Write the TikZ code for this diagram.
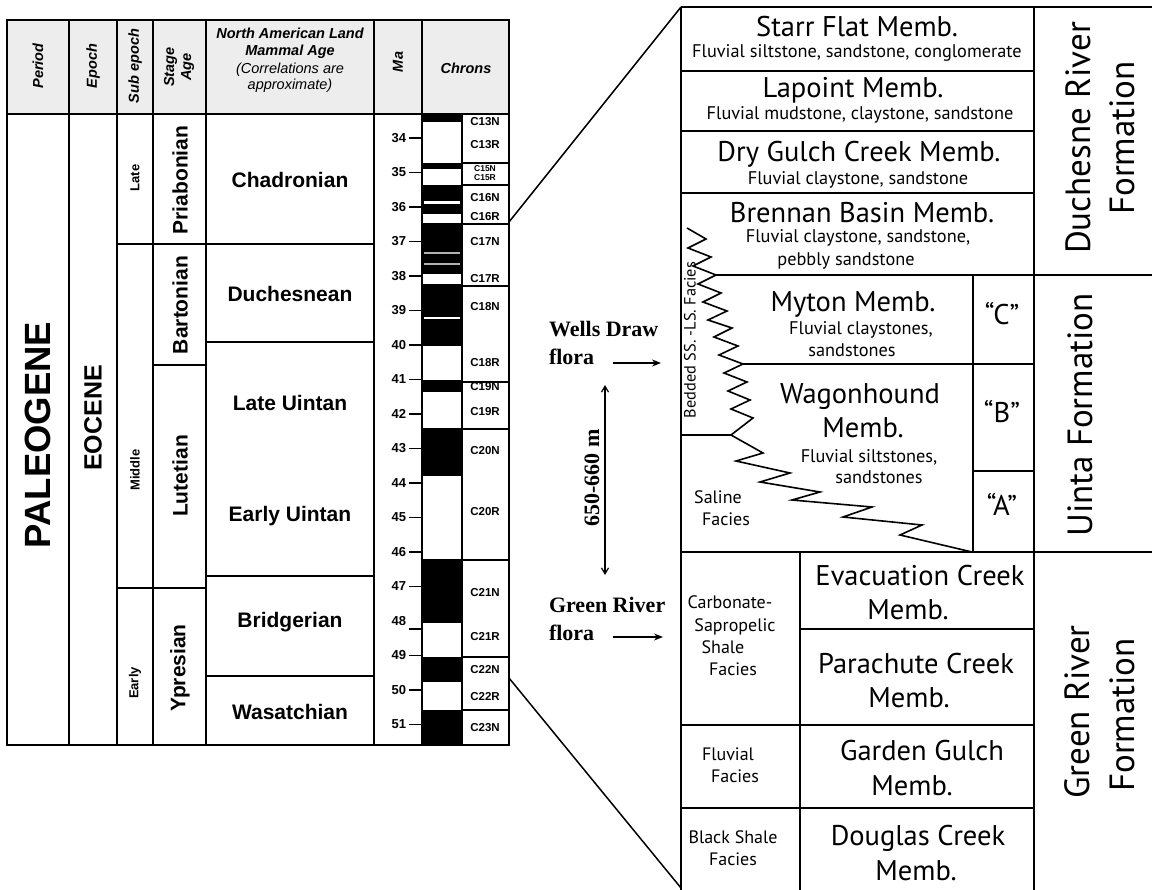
\documentclass[tikz,border=0pt]{standalone}
\usepackage{fontspec}
\usetikzlibrary{arrows.meta}
\newfontfamily\arialf{Liberation Sans}
\newfontfamily\myrf{PT Sans}
\newfontfamily\palf{Liberation Serif}
\newcommand\fsz[2]{\fontsize{#1}{#2}\selectfont}
\definecolor{hdrgray}{gray}{0.93}
\begin{document}
\begin{tikzpicture}[x=1pt,y=-1pt,line join=miter,
  every node/.style={inner sep=0pt,outer sep=0pt},
  tl/.style={line width=1.7pt},
  rl/.style={line width=1.6pt},
  hdr/.style={font=\arialf\bfseries\itshape\fsz{14.5}{17}},
  hdri/.style={font=\arialf\itshape\fsz{14.5}{17}},
  bigt/.style={font=\arialf\bfseries\fsz{36.5}{40}},
  eoct/.style={font=\arialf\bfseries\fsz{25}{28}},
  set/.style={font=\arialf\bfseries\fsz{13}{15}},
  stg/.style={font=\arialf\bfseries\fsz{21}{24}},
  chr/.style={font=\arialf\bfseries\fsz{11.5}{12}},
  chrs/.style={font=\arialf\bfseries\fsz{8.5}{9}},
  mat/.style={font=\arialf\bfseries\fsz{13}{14}},
  mem/.style={font=\myrf\fsz{28.5}{30}},
  subt/.style={font=\myrf\fsz{18.3}{20}},
  fac/.style={font=\myrf\fsz{18}{20}},
  frm/.style={font=\myrf\fsz{35}{38}},
  flo/.style={font=\palf\bfseries\fsz{22}{24}}]
\useasboundingbox (0,0) rectangle (1154,890);
\fill[white] (0,0) rectangle (1154,890);

% ---------------- left table ----------------
\fill[hdrgray] (7,20) rectangle (509,114);
% polarity bar
\foreach \a/\b in {114/122,163/169,185/214,223/274,284/346,380/392,428/476,559/623,657/682,710/745}
  \fill[black] (422,\a) rectangle (462,\b);
\draw[white,line width=2.2pt] (424,202.5) -- (460,202.5);
\draw[gray!60,line width=1.6pt] (424,253) -- (460,253);
\draw[gray!60,line width=1.6pt] (424,264) -- (460,264);
\draw[white,line width=2.2pt] (424,318) -- (460,318);
% grid
\draw[tl] (7,20) rectangle (509,745);
\draw[tl] (7,114) -- (509,114);
\foreach \x in {69,117,153,206,374,422}
  \draw[tl] (\x,20) -- (\x,745);
\draw[tl] (462,114) -- (462,745);
\foreach \y in {244,588} \draw[tl] (117,\y) -- (153,\y);
\foreach \y in {244,365,588} \draw[tl] (153,\y) -- (206,\y);
\foreach \y in {244,342,576,676} \draw[tl] (206,\y) -- (374,\y);
\foreach \y in {163,185,224,286,382,429,560,657,710} \draw[line width=1.3pt] (462,\y) -- (509,\y);

% header texts
\node[hdr,rotate=90] (hPeriod) at (38,66) {Period};
\node[hdr,rotate=90] (hEpoch) at (93,66) {Epoch};
\node[hdr,rotate=90] (hSub) at (135,66) {Sub epoch};
\node[hdr,rotate=90,align=center] (hStage) at (179,67) {Stage\\Age};
\node[hdr,anchor=base] (hN1) at (290,39) {North American Land};
\node[hdr,anchor=base] (hN2) at (290,56) {Mammal Age};
\node[hdri,anchor=base] (hN3) at (290,74) {(Correlations are};
\node[hdri,anchor=base] (hN4) at (290,90) {approximate)};
\node[hdr,rotate=90] (hMa) at (398,62) {Ma};
\node[hdr] (hChr) at (466,68) {Chrons};

% body texts
\node[bigt,rotate=90] (pal) at (38,435) {PALEOGENE};
\node[eoct,rotate=90] (eoc) at (93,418) {EOCENE};
\node[set,rotate=90] (sLate) at (135,178) {Late};
\node[set,rotate=90] (sMid) at (135,470) {Middle};
\node[set,rotate=90] (sEarly) at (135,683) {Early};
\node[stg,rotate=90] (gPri) at (180,180) {Priabonian};
\node[stg,rotate=90] (gBar) at (180,305) {Bartonian};
\node[stg,rotate=90] (gLut) at (180,476) {Lutetian};
\node[stg,rotate=90] (gYpr) at (180,668) {Ypresian};
\node[stg] (nChad) at (290,180) {Chadronian};
\node[stg] (nDuch) at (290,294) {Duchesnean};
\node[stg] (nLU) at (290,403) {Late Uintan};
\node[stg] (nEU) at (290,516) {Early Uintan};
\node[stg] (nBri) at (290,622) {Bridgerian};
\node[stg] (nWas) at (290,712) {Wasatchian};

% Ma ticks
\foreach \m/\yl/\yt in {34/138/138,35/172.5/172.5,36/207/207,37/241.5/241.5,38/276/276,39/310.5/310.5,40/345/345,41/379.5/379.5,42/414/414,43/448.5/448.5,44/483/483,45/517.5/517.5,46/552/552,47/586.5/586.5,48/621/629,49/655.5/655.5,50/690/690,51/724.5/724.5}{
  \node[mat,anchor=east] (ma\m) at (406,\yl) {\m};
  \draw[line width=1.3pt] (409,\yt) -- (422,\yt);
}
% chron labels
\foreach \c/\y in {C13N/122,C13R/145,C16N/198,C16R/217,C17N/242,C17R/279,C18N/307,C18R/363,C19N/387,C19R/412,C20N/451,C20R/512,C21N/593,C21R/637,C22N/670,C22R/697,C23N/728}
  \node[chr] (ch\c) at (485,\y) {\c};
\node[chrs] (chC15N) at (485,168.5) {C15N};
\node[chrs] (chC15R) at (485,178) {C15R};

% ---------------- connectors ----------------
\coordinate (lt) at (509,222);
\coordinate (lb) at (509,678);
\coordinate (rt) at (681,7);
\coordinate (rb) at (681,888);
\draw[line width=1.5pt] (lt) -- (rt);
\draw[line width=1.5pt] (lb) -- (rb);

% ---------------- right diagram ----------------
\draw[rl] (681,7) -- (1152,7);
\draw[rl] (681,7) -- (681,890);
\draw[rl] (1034,7) -- (1034,890);
\foreach \y in {71,131,193} \draw[rl] (681,\y) -- (1034,\y);
\draw[rl] (716,275) -- (1152,275);
\draw[rl] (743,364) -- (1034,364);
\draw[rl] (973,275) -- (973,552);
\draw[rl] (973,471) -- (1034,471);
\draw[rl] (681,435) -- (731,435);
\draw[rl] (681,552) -- (1152,552);
\draw[rl] (800,552) -- (800,890);
\draw[rl] (800,629) -- (1034,629);
\draw[rl] (681,725) -- (1034,725);
\draw[rl] (681,808) -- (1034,808);
% zigzag facies boundary
\draw[line width=1.6pt] (687,228) -- (706,239) -- (688,248) -- (711,257) -- (693,266) -- (716,275)
  -- (698,284) -- (721,293) -- (703,302) -- (727,311) -- (708,320) -- (732,328) -- (714,337)
  -- (738,346) -- (719,355) -- (743,364) -- (724,373) -- (747,382) -- (728,391) -- (750,400)
  -- (731,409) -- (753,418) -- (731,435) -- (763,453) -- (736,461)
  -- (790,473) -- (760,482) -- (820,492) -- (792,500) -- (872,507) -- (843,517) -- (922,525)
  -- (900,535) -- (972,552);

% member texts
\node[mem,anchor=base] (mStarr) at (857,37) {Starr Flat Memb.};
\node[subt,anchor=base] (sStarr) at (857,58) {Fluvial siltstone, sandstone, conglomerate};
\node[mem,anchor=base] (mLap) at (853,98) {Lapoint Memb.};
\node[subt,anchor=base] (sLap) at (860,120) {Fluvial mudstone, claystone, sandstone};
\node[mem,anchor=base] (mDry) at (859,162) {Dry Gulch Creek Memb.};
\node[subt,anchor=base] (sDry) at (858,185) {Fluvial claystone, sandstone};
\node[mem,anchor=base] (mBren) at (862,223) {Brennan Basin Memb.};
\node[subt,anchor=base] (sBren1) at (858,243) {Fluvial claystone, sandstone,};
\node[subt,anchor=base] (sBren2) at (846,266) {pebbly sandstone};
\node[mem,anchor=base] (mMyt) at (853,312) {Myton Memb.};
\node[subt,anchor=base] (sMyt1) at (861,335) {Fluvial claystones,};
\node[subt,anchor=base] (sMyt2) at (852,357) {sandstones};
\node[mem,anchor=base] (mWag1) at (860,403) {Wagonhound};
\node[mem,anchor=base] (mWag2) at (863,438) {Memb.};
\node[subt,anchor=base] (sWag1) at (869,462) {Fluvial siltstones,};
\node[subt,anchor=base] (sWag2) at (879,483) {sandstones};
\node[mem,anchor=base] (uC) at (1002,325) {“C”};
\node[mem,anchor=base] (uB) at (1002,422) {“B”};
\node[mem,anchor=base] (uA) at (1002,515) {“A”};
\node[fac,anchor=base] (fSal1) at (718,503) {Saline};
\node[fac,anchor=base] (fSal2) at (726,525) {Facies};
\node[font=\myrf\fsz{16.3}{17},rotate=90] (fBed) at (690,340) {Bedded SS. -LS. Facies};
\node[mem,anchor=base] (mEva1) at (920,585) {Evacuation Creek};
\node[mem,anchor=base] (mEva2) at (908,619) {Memb.};
\node[mem,anchor=base] (mPar1) at (916,673) {Parachute Creek};
\node[mem,anchor=base] (mPar2) at (909,707) {Memb.};
\node[mem,anchor=base] (mGar1) at (922,760) {Garden Gulch};
\node[mem,anchor=base] (mGar2) at (912,795) {Memb.};
\node[mem,anchor=base] (mDou1) at (918,845) {Douglas Creek};
\node[mem,anchor=base] (mDou2) at (916,880) {Memb.};
\node[fac,anchor=base] (fCar1) at (730,608) {Carbonate-};
\node[fac,anchor=base] (fCar2) at (735,631) {Sapropelic};
\node[fac,anchor=base] (fCar3) at (723,653) {Shale};
\node[fac,anchor=base] (fCar4) at (733,675) {Facies};
\node[fac,anchor=base] (fFlu1) at (728,760) {Fluvial};
\node[fac,anchor=base] (fFlu2) at (735,782) {Facies};
\node[fac,anchor=base] (fBla1) at (733,843) {Black Shale};
\node[fac,anchor=base] (fBla2) at (733,865) {Facies};
% formations
\node[frm,rotate=90] (fmD1) at (1078,138) {Duchesne River};
\node[frm,rotate=90] (fmD2) at (1122,138) {Formation};
\node[frm,rotate=90] (fmU) at (1080,415) {Uinta Formation};
\node[frm,rotate=90] (fmG1) at (1077,712) {Green River};
\node[frm,rotate=90] (fmG2) at (1122,715) {Formation};

% ---------------- flora labels ----------------
\node[flo,anchor=base west] (wd1) at (549,337) {Wells Draw};
\node[flo,anchor=base west] (wd2) at (549,365) {flora};
\node[flo,anchor=base west] (gr1) at (549,612) {Green River};
\node[flo,anchor=base west] (gr2) at (549,640) {flora};
\coordinate (wa1) at (613,363); \coordinate (wa2) at (661,363);
\coordinate (ga1) at (613,637); \coordinate (ga2) at (663,637);
\draw[line width=1.4pt,-{Stealth[length=9pt,width=7pt]}] (wa1) -- (wa2);
\draw[line width=1.4pt,-{Stealth[length=9pt,width=7pt]}] (ga1) -- (ga2);
\coordinate (da1) at (605,385); \coordinate (da2) at (605,575);
\draw[line width=1.2pt,{Straight Barb[length=6pt,width=7pt]}-{Straight Barb[length=6pt,width=7pt]}] (da1) -- (da2);
\node[flo,rotate=90] (dist) at (592,478) {650-660 m};
\end{tikzpicture}
\end{document}
